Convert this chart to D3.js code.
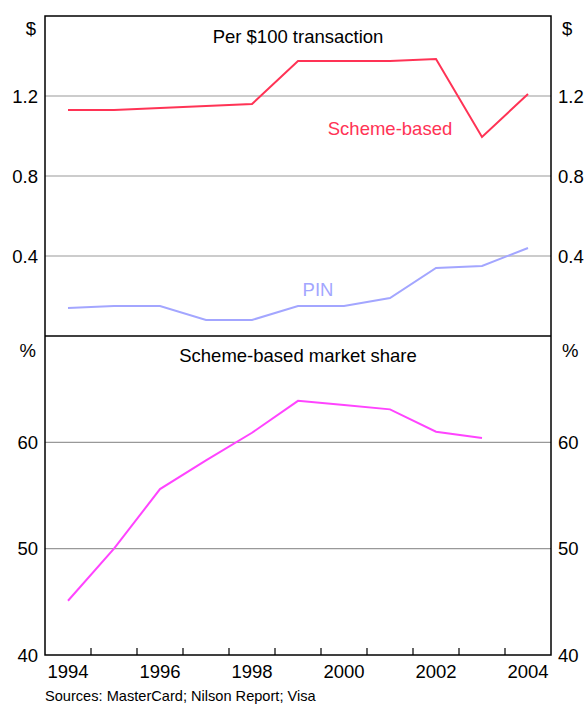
<!DOCTYPE html>
<html>
<head>
<meta charset="utf-8">
<script src="https://cdn.jsdelivr.net/npm/d3@7"></script>
<style>
  body { margin: 0; background: #fff; }
  text { font-family: "Liberation Sans", Arial, sans-serif; }
</style>
</head>
<body>
<svg id="chart"></svg>
<script>
// data
const years = [1994, 1995, 1996, 1997, 1998, 1999, 2000, 2001, 2002, 2003, 2004];
const schemeFee = [1.13, 1.13, 1.14, 1.15, 1.16, 1.375, 1.375, 1.375, 1.385, 0.995, 1.21];
const pinFee = [0.14, 0.15, 0.15, 0.08, 0.08, 0.15, 0.15, 0.19, 0.34, 0.35, 0.44];
const shareYears = [1994, 1995, 1996, 1997, 1998, 1999, 2000, 2001, 2002, 2003];
const schemeShare = [45.1, 50.0, 55.6, 58.3, 60.9, 63.9, 63.5, 63.1, 61.0, 60.4];
const feeTicks = [0.4, 0.8, 1.2];
const shareTicks = [40, 50, 60];
const yearLabels = [1994, 1996, 1998, 2000, 2002, 2004];

const W = 584, H = 704;
const pLeft = 45, pRight = 551, pTop = 16, pMid = 336, pBottom = 655;
const fs = '18.5px';

const svg = d3.select('#chart').attr('width', W).attr('height', H);

const x = d3.scaleBand().domain(years).range([pLeft, pRight]);
const y1 = d3.scaleLinear().domain([0, 1.6]).range([pMid, pTop]);
const y2 = d3.scaleLinear().domain([40, 70]).range([pBottom, pMid]);
const cx = d => x(d) + x.bandwidth() / 2;

// gridlines
svg.selectAll('.g1').data(feeTicks).enter().append('line')
    .attr('x1', pLeft).attr('x2', pRight)
    .attr('y1', d => y1(d)).attr('y2', d => y1(d))
    .attr('stroke', '#999').attr('stroke-width', 1.2);
svg.selectAll('.g2').data(shareTicks.slice(1)).enter().append('line')
    .attr('x1', pLeft).attr('x2', pRight)
    .attr('y1', d => y2(d)).attr('y2', d => y2(d))
    .attr('stroke', '#999').attr('stroke-width', 1.2);

// frame
const frame = svg.append('g').attr('stroke', '#000').attr('stroke-width', 1.5);
frame.append('rect').attr('x', pLeft).attr('y', pTop).attr('width', pRight - pLeft).attr('height', pBottom - pTop).attr('fill', 'none');
frame.append('line').attr('x1', pLeft).attr('x2', pRight).attr('y1', pMid).attr('y2', pMid);

// x ticks between years, pointing up
const bounds = years.slice(1).map(d => x(d));
svg.selectAll('.xt').data(bounds).enter().append('line')
    .attr('x1', d => d).attr('x2', d => d)
    .attr('y1', pBottom).attr('y2', pBottom - 7)
    .attr('stroke', '#000').attr('stroke-width', 1.2);

svg.selectAll('.xl').data(yearLabels).enter().append('text')
    .attr('x', d => cx(d)).attr('y', pBottom + 23)
    .attr('text-anchor', 'middle').style('font-size', fs)
    .text(d => d);

// y labels, both sides
function yLabels(ticks, scale, unit, unitY) {
    [['end', pLeft - 7], ['start', pRight + 7]].forEach(([anchor, px]) => {
        svg.selectAll(null).data(ticks).enter().append('text')
            .attr('x', px).attr('y', d => scale(d) + 6.5)
            .attr('text-anchor', anchor).style('font-size', fs)
            .text(d => d);
        svg.append('text').attr('x', anchor == 'end' ? px - 2 : px + 4).attr('y', unitY)
            .attr('text-anchor', anchor).style('font-size', fs).text(unit);
    });
}
yLabels(feeTicks, y1, '$', 35);
yLabels(shareTicks, y2, '%', 357);

// lines
const line1 = d3.line().x((d, i) => cx(years[i])).y(d => y1(d));
const line2 = d3.line().x((d, i) => cx(shareYears[i])).y(d => y2(d));

svg.append('path').datum(pinFee).attr('d', line1)
    .attr('fill', 'none').attr('stroke', '#a3a6ff').attr('stroke-width', 2);
svg.append('path').datum(schemeFee).attr('d', line1)
    .attr('fill', 'none').attr('stroke', '#ff3355').attr('stroke-width', 2);
svg.append('path').datum(schemeShare).attr('d', line2)
    .attr('fill', 'none').attr('stroke', '#ff44ff').attr('stroke-width', 2);

// titles and labels
svg.append('text').attr('x', 298).attr('y', 43).attr('text-anchor', 'middle')
    .style('font-size', fs).text('Per $100 transaction');
svg.append('text').attr('x', 298).attr('y', 362).attr('text-anchor', 'middle')
    .style('font-size', fs).text('Scheme-based market share');
svg.append('text').attr('x', 390).attr('y', 135).attr('text-anchor', 'middle')
    .style('font-size', fs).attr('fill', '#ff3355').text('Scheme-based');
svg.append('text').attr('x', 318).attr('y', 296).attr('text-anchor', 'middle')
    .style('font-size', fs).attr('fill', '#a3a6ff').text('PIN');

svg.append('text').attr('x', 45).attr('y', 701)
    .style('font-size', '14.6px').text('Sources: MasterCard; Nilson Report; Visa');
</script>
</body>
</html>
